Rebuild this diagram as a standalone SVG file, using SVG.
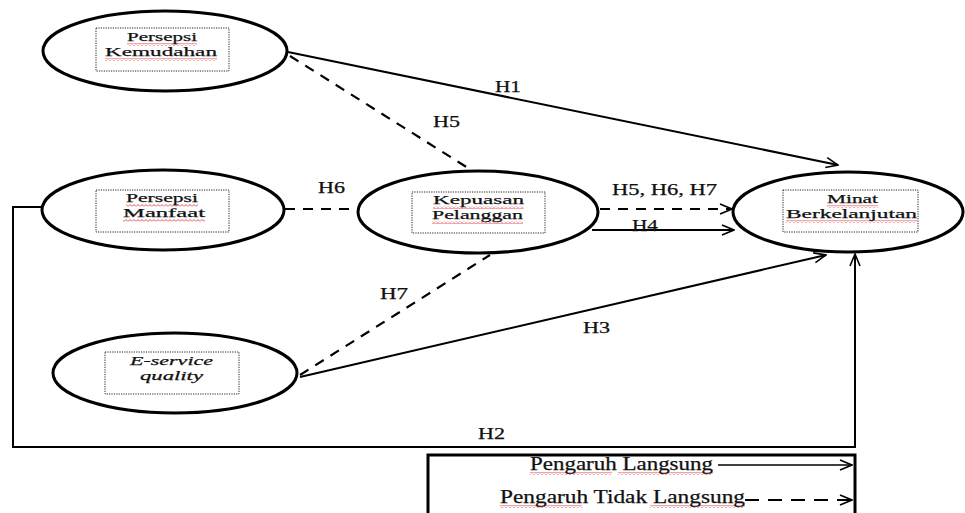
<svg xmlns="http://www.w3.org/2000/svg" width="965" height="513" viewBox="0 0 965 513">
<defs>
<marker id="arr" markerWidth="14" markerHeight="12" refX="13" refY="6" orient="auto" markerUnits="userSpaceOnUse">
<path d="M1,1 L13,6 L1,11" fill="none" stroke="#000" stroke-width="1.6"/>
</marker>
<pattern id="squig" width="4" height="3" patternUnits="userSpaceOnUse">
<path d="M0,2.5 L2,0.5 L4,2.5" fill="none" stroke="#e02020" stroke-width="0.8"/>
</pattern>
<style>
.node ellipse{fill:#fff;stroke:#000;stroke-width:3}
.box{fill:none;stroke:#222;stroke-width:1;stroke-dasharray:1.2 1.2}
.t{font-family:"Liberation Serif","Times New Roman",serif;font-size:13.5px;fill:#111;stroke:#111;stroke-width:0.25}
.lbl{font-family:"Liberation Serif","Times New Roman",serif;font-size:16px;fill:#111;stroke:#111;stroke-width:0.25}
.leg{font-family:"Liberation Serif","Times New Roman",serif;font-size:18px;fill:#111;stroke:#111;stroke-width:0.25}
.sq{fill:url(#squig)}
.solid{fill:none;stroke:#000;stroke-width:2}
.dash{fill:none;stroke:#000;stroke-width:2.2;stroke-dasharray:10 8}
</style>
</defs>

<g id="connectors">
<path class="solid" d="M288,52 L838,165" marker-end="url(#arr)"/>
<path class="dash" d="M290,56 L468,168"/>
<path class="dash" d="M285,209 L358,209"/>
<path class="dash" d="M600,209 L732,209" marker-end="url(#arr)"/>
<path class="solid" d="M592,230 L734,230" marker-end="url(#arr)"/>
<path class="dash" d="M300,375 L490,255"/>
<path class="solid" d="M300,377 L826,255" marker-end="url(#arr)"/>
<path class="solid" d="M42,207 L13,207 L13,447 L855,447 L855,254" marker-end="url(#arr)"/>
<text class="lbl" x="495" y="92" textLength="26" lengthAdjust="spacingAndGlyphs">H1</text>
<text class="lbl" x="433" y="127" textLength="27" lengthAdjust="spacingAndGlyphs">H5</text>
<text class="lbl" x="318" y="193" textLength="27" lengthAdjust="spacingAndGlyphs">H6</text>
<text class="lbl" x="612" y="195" textLength="105" lengthAdjust="spacingAndGlyphs">H5, H6, H7</text>
<text class="lbl" x="632" y="231" textLength="26" lengthAdjust="spacingAndGlyphs">H4</text>
<text class="lbl" x="380" y="299" textLength="28" lengthAdjust="spacingAndGlyphs">H7</text>
<text class="lbl" x="583" y="333" textLength="27" lengthAdjust="spacingAndGlyphs">H3</text>
<text class="lbl" x="478" y="439" textLength="27" lengthAdjust="spacingAndGlyphs">H2</text>
</g>

<g id="persepsi-kemudahan" class="node">
<ellipse cx="165" cy="51" rx="122" ry="40"/>
<rect class="box" x="96" y="28" width="133" height="43"/>
<rect class="sq" x="127" y="43" width="70" height="3"/>
<rect class="sq" x="105" y="58" width="112" height="3"/>
<text class="t" x="127" y="41" textLength="70" lengthAdjust="spacingAndGlyphs">Persepsi</text>
<text class="t" x="105" y="56" textLength="112" lengthAdjust="spacingAndGlyphs">Kemudahan</text>
</g>

<g id="persepsi-manfaat" class="node">
<ellipse cx="163" cy="210" rx="121" ry="40"/>
<rect class="box" x="96" y="190" width="133" height="42"/>
<rect class="sq" x="126" y="204" width="72" height="3"/>
<rect class="sq" x="123" y="219" width="82" height="3"/>
<text class="t" x="126" y="202" textLength="72" lengthAdjust="spacingAndGlyphs">Persepsi</text>
<text class="t" x="123" y="217" textLength="82" lengthAdjust="spacingAndGlyphs">Manfaat</text>
</g>

<g id="kepuasan-pelanggan" class="node">
<ellipse cx="478" cy="212" rx="120" ry="41"/>
<rect class="box" x="412" y="192" width="133" height="41"/>
<rect class="sq" x="433" y="206" width="91" height="3"/>
<rect class="sq" x="432" y="221" width="91" height="3"/>
<text class="t" x="433" y="204" textLength="91" lengthAdjust="spacingAndGlyphs">Kepuasan</text>
<text class="t" x="432" y="219" textLength="91" lengthAdjust="spacingAndGlyphs">Pelanggan</text>
</g>

<g id="minat-berkelanjutan" class="node">
<ellipse cx="848" cy="212" rx="115" ry="40"/>
<rect class="box" x="783" y="190" width="135" height="42"/>
<rect class="sq" x="827" y="205" width="51" height="3"/>
<rect class="sq" x="786" y="220" width="131" height="3"/>
<text class="t" x="827" y="203" textLength="51" lengthAdjust="spacingAndGlyphs">Minat</text>
<text class="t" x="786" y="218" textLength="131" lengthAdjust="spacingAndGlyphs">Berkelanjutan</text>
</g>

<g id="e-service-quality" class="node">
<ellipse cx="175" cy="373" rx="122" ry="40"/>
<rect class="box" x="105" y="352" width="134" height="42"/>
<text class="t" x="130" y="365" font-style="italic" textLength="83" lengthAdjust="spacingAndGlyphs">E-service</text>
<text class="t" x="140" y="380" font-style="italic" textLength="63" lengthAdjust="spacingAndGlyphs">quality</text>
</g>

<g id="legend">
<rect x="428" y="455" width="427" height="64" fill="none" stroke="#000" stroke-width="3"/>
<rect class="sq" x="530" y="472" width="82" height="3"/>
<rect class="sq" x="618" y="472" width="95" height="3"/>
<text class="leg" x="530" y="470" textLength="183" lengthAdjust="spacingAndGlyphs">Pengaruh Langsung</text>
<path d="M718,465 L852,465" fill="none" stroke="#000" stroke-width="1.3" marker-end="url(#arr)"/>
<rect class="sq" x="500" y="505" width="82" height="3"/>
<rect class="sq" x="650" y="505" width="95" height="3"/>
<text class="leg" x="500" y="503" textLength="245" lengthAdjust="spacingAndGlyphs">Pengaruh Tidak Langsung</text>
<path d="M745,500 L852,500" fill="none" stroke="#000" stroke-width="2.2" stroke-dasharray="14 9" marker-end="url(#arr)"/>
</g>
</svg>
